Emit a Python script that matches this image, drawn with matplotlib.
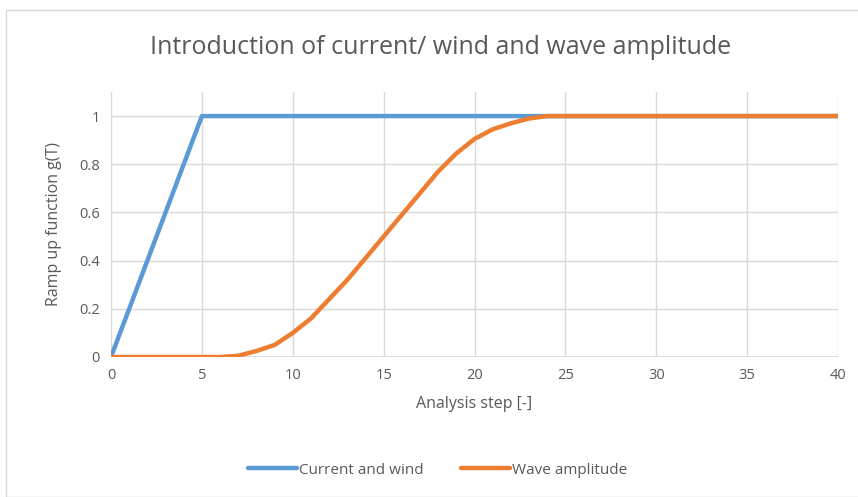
import matplotlib
matplotlib.use("Agg")
import matplotlib.pyplot as plt
from matplotlib.patches import Rectangle

plt.rcParams['font.family'] = ['Open Sans', 'DejaVu Sans']

# data
steps = list(range(0, 41))
current_wind = [min(s / 5, 1.0) for s in steps[:6]] + [1.0] * 35
wave_amp = [0, 0, 0, 0, 0, 0, 0, 0.005, 0.025, 0.05, 0.10, 0.16, 0.24, 0.32, 0.41,
            0.50, 0.59, 0.68, 0.77, 0.845, 0.905, 0.945, 0.97, 0.99, 1.0] + [1.0] * 16

grid_c = '#d9d9d9'
text_c = '#595959'

fig = plt.figure(figsize=(8.58, 4.97), dpi=100)
fig.patches.append(Rectangle((6 / 858, 0), 1, 1 - 10 / 497, transform=fig.transFigure,
                             fill=False, edgecolor='#d9d9d9', lw=1))
ax = fig.add_axes([111 / 858, 1 - 357 / 497, 727 / 858, 265 / 497])

ax.plot(steps, current_wind, color='#5B9BD5', lw=3.2, label='Current and wind',
        solid_joinstyle='round', solid_capstyle='round')
ax.plot(steps, wave_amp, color='#ED7D31', lw=3.2, label='Wave amplitude',
        solid_joinstyle='round', solid_capstyle='round')

ax.set_xlim(0, 40)
ax.set_ylim(0, 1.1)
ax.set_xticks(range(0, 41, 5))
ax.set_yticks([0, 0.2, 0.4, 0.6, 0.8, 1.0])
ax.set_yticklabels(['0', '0.2', '0.4', '0.6', '0.8', '1'])
ax.grid(True, color=grid_c, lw=1)
ax.set_axisbelow(True)
for sp in ax.spines.values():
    sp.set_visible(False)
ax.axhline(0, color=grid_c, lw=1.2, zorder=0)
ax.tick_params(length=0, labelsize=10.5, colors=text_c, pad=8)

ax.set_xlabel('Analysis step [-]', fontsize=11.5, color=text_c, labelpad=9)
ax.set_ylabel('Ramp up function g(T)', fontsize=11.5, color=text_c, labelpad=12)
fig.text(0.513, 1 - 47 / 497, 'Introduction of current/ wind and wave amplitude',
         ha='center', va='center', fontsize=18, color=text_c)

fig.legend(loc='center', bbox_to_anchor=(0.51, 1 - 470 / 497), ncol=2, frameon=False,
           fontsize=11, labelcolor=text_c, handlelength=3.2, handletextpad=0.1,
           columnspacing=2.5)

plt.savefig('out.png', dpi=100)
